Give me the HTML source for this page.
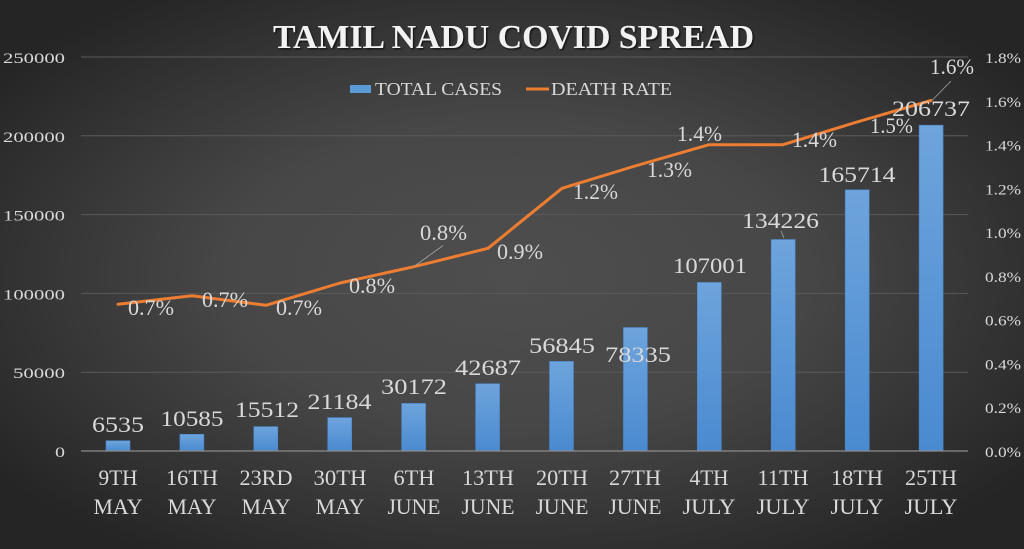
<!DOCTYPE html>
<html><head><meta charset="utf-8">
<style>
html,body{margin:0;padding:0;}
body{width:1024px;height:549px;overflow:hidden;background:#3a3a3a;}
svg{display:block;}
text{font-family:"Liberation Serif",serif;}
</style></head>
<body>
<svg width="1024" height="549" viewBox="0 0 1024 549" xmlns="http://www.w3.org/2000/svg">
<defs>
<radialGradient id="bg" cx="50%" cy="50%" r="62%">
<stop offset="0" stop-color="#4e4e4e"/>
<stop offset="0.45" stop-color="#474747"/>
<stop offset="1" stop-color="#252525"/>
</radialGradient>
<linearGradient id="bar" x1="0" y1="0" x2="0" y2="1">
<stop offset="0" stop-color="#6ea4dc"/>
<stop offset="1" stop-color="#4a8ad0"/>
</linearGradient>
<filter id="sh" x="-5%" y="-20%" width="110%" height="140%">
<feDropShadow dx="1.5" dy="1.5" stdDeviation="0.8" flood-color="#000" flood-opacity="0.6"/>
</filter>
</defs>
<rect width="1024" height="549" fill="url(#bg)"/>

<!-- gridlines -->
<g stroke="#5a5a5a" stroke-width="1">
<line x1="81" x2="968" y1="57" y2="57"/>
<line x1="81" x2="968" y1="135.8" y2="135.8"/>
<line x1="81" x2="968" y1="214.6" y2="214.6"/>
<line x1="81" x2="968" y1="293.4" y2="293.4"/>
<line x1="81" x2="968" y1="372.2" y2="372.2"/>
</g>

<!-- bars -->
<g fill="url(#bar)" stroke="#4a86c6" stroke-width="0.6">
<rect x="106" y="440.7" width="24" height="10.3"/>
<rect x="179.9" y="434.3" width="24" height="16.7"/>
<rect x="253.8" y="426.6" width="24" height="24.4"/>
<rect x="327.7" y="417.6" width="24" height="33.4"/>
<rect x="401.6" y="403.4" width="24" height="47.6"/>
<rect x="475.6" y="383.7" width="24" height="67.3"/>
<rect x="549.5" y="361.4" width="24" height="89.6"/>
<rect x="623.4" y="327.5" width="24" height="123.5"/>
<rect x="697.3" y="282.4" width="24" height="168.6"/>
<rect x="771.2" y="239.5" width="24" height="211.5"/>
<rect x="845.2" y="189.8" width="24" height="261.2"/>
<rect x="919.1" y="125.2" width="24" height="325.8"/>
</g>

<!-- zero axis -->
<line x1="81" x2="968" y1="451" y2="451" stroke="#8c8c8c" stroke-width="1.3"/>

<!-- death rate line -->
<polyline fill="none" stroke="#ed7d31" stroke-width="3" stroke-linejoin="round" stroke-linecap="round"
points="118,304.3 192,295.7 266,305.3 340,283 414,266.7 488,248.3 562,188.3 635,166 709,144.7 783,144.7 857,122 931,100.5"/>

<!-- leader lines -->
<g stroke="#a6a6a6" stroke-width="0.8">
<line x1="414" y1="266.5" x2="443" y2="245.5"/>
<line x1="932.5" y1="100" x2="951" y2="81"/>
<line x1="781" y1="231" x2="784" y2="238"/>
</g>

<!-- title -->
<text x="273" y="48" font-size="34" font-weight="bold" fill="#f2f2f2" textLength="481" lengthAdjust="spacingAndGlyphs" filter="url(#sh)">TAMIL NADU COVID SPREAD</text>

<!-- legend -->
<rect x="350" y="85" width="21" height="8" fill="#5b9bd5"/>
<text x="375" y="95" font-size="18" fill="#d9d9d9" textLength="127" lengthAdjust="spacingAndGlyphs">TOTAL CASES</text>
<line x1="526" x2="549" y1="89" y2="89" stroke="#ed7d31" stroke-width="3"/>
<text x="551" y="95" font-size="18" fill="#d9d9d9" textLength="121" lengthAdjust="spacingAndGlyphs">DEATH RATE</text>

<!-- left axis labels -->
<g font-size="15" fill="#d9d9d9" text-anchor="end">
<text x="65" y="63" textLength="62" lengthAdjust="spacingAndGlyphs">250000</text>
<text x="65" y="141.8" textLength="62" lengthAdjust="spacingAndGlyphs">200000</text>
<text x="65" y="220.6" textLength="62" lengthAdjust="spacingAndGlyphs">150000</text>
<text x="65" y="299.4" textLength="62" lengthAdjust="spacingAndGlyphs">100000</text>
<text x="65" y="378.2" textLength="52" lengthAdjust="spacingAndGlyphs">50000</text>
<text x="65" y="457" textLength="10" lengthAdjust="spacingAndGlyphs">0</text>
</g>

<!-- right axis labels -->
<g font-size="15" fill="#d9d9d9">
<text x="985" y="63" textLength="36" lengthAdjust="spacingAndGlyphs">1.8%</text>
<text x="985" y="106.8" textLength="36" lengthAdjust="spacingAndGlyphs">1.6%</text>
<text x="985" y="150.5" textLength="36" lengthAdjust="spacingAndGlyphs">1.4%</text>
<text x="985" y="194.3" textLength="36" lengthAdjust="spacingAndGlyphs">1.2%</text>
<text x="985" y="238.1" textLength="36" lengthAdjust="spacingAndGlyphs">1.0%</text>
<text x="985" y="281.9" textLength="36" lengthAdjust="spacingAndGlyphs">0.8%</text>
<text x="985" y="325.7" textLength="36" lengthAdjust="spacingAndGlyphs">0.6%</text>
<text x="985" y="369.4" textLength="36" lengthAdjust="spacingAndGlyphs">0.4%</text>
<text x="985" y="413.2" textLength="36" lengthAdjust="spacingAndGlyphs">0.2%</text>
<text x="985" y="457" textLength="36" lengthAdjust="spacingAndGlyphs">0.0%</text>
</g>

<!-- bar data labels -->
<g font-size="22" fill="#d9d9d9" text-anchor="middle">
<text x="118" y="432" textLength="52" lengthAdjust="spacingAndGlyphs">6535</text>
<text x="192" y="426" textLength="63" lengthAdjust="spacingAndGlyphs">10585</text>
<text x="267" y="417" textLength="64" lengthAdjust="spacingAndGlyphs">15512</text>
<text x="339.5" y="409" textLength="64" lengthAdjust="spacingAndGlyphs">21184</text>
<text x="414" y="394" textLength="66" lengthAdjust="spacingAndGlyphs">30172</text>
<text x="488" y="375" textLength="66" lengthAdjust="spacingAndGlyphs">42687</text>
<text x="562" y="353" textLength="66" lengthAdjust="spacingAndGlyphs">56845</text>
<text x="638" y="362" textLength="66" lengthAdjust="spacingAndGlyphs">78335</text>
<text x="710" y="273" textLength="74" lengthAdjust="spacingAndGlyphs">107001</text>
<text x="780.5" y="228" textLength="77" lengthAdjust="spacingAndGlyphs">134226</text>
<text x="857" y="182" textLength="77" lengthAdjust="spacingAndGlyphs">165714</text>
<text x="931" y="116" textLength="78" lengthAdjust="spacingAndGlyphs">206737</text>
</g>

<!-- percent labels -->
<g font-size="22" fill="#d9d9d9">
<text x="128" y="315" textLength="46" lengthAdjust="spacingAndGlyphs">0.7%</text>
<text x="202" y="307" textLength="46" lengthAdjust="spacingAndGlyphs">0.7%</text>
<text x="276" y="315" textLength="46" lengthAdjust="spacingAndGlyphs">0.7%</text>
<text x="349" y="293" textLength="46" lengthAdjust="spacingAndGlyphs">0.8%</text>
<text x="420" y="240" textLength="47" lengthAdjust="spacingAndGlyphs">0.8%</text>
<text x="497" y="259" textLength="46" lengthAdjust="spacingAndGlyphs">0.9%</text>
<text x="573" y="199" textLength="45" lengthAdjust="spacingAndGlyphs">1.2%</text>
<text x="647" y="177" textLength="45" lengthAdjust="spacingAndGlyphs">1.3%</text>
<text x="677" y="141" textLength="45" lengthAdjust="spacingAndGlyphs">1.4%</text>
<text x="792" y="147" textLength="45" lengthAdjust="spacingAndGlyphs">1.4%</text>
<text x="870" y="133" textLength="43" lengthAdjust="spacingAndGlyphs">1.5%</text>
<text x="930" y="74" textLength="44" lengthAdjust="spacingAndGlyphs">1.6%</text>
</g>

<!-- category labels -->
<g font-size="22" fill="#d9d9d9" text-anchor="middle">
<text x="118" y="485" textLength="39" lengthAdjust="spacingAndGlyphs">9TH</text>
<text x="118" y="514" textLength="49" lengthAdjust="spacingAndGlyphs">MAY</text>
<text x="192" y="485" textLength="52" lengthAdjust="spacingAndGlyphs">16TH</text>
<text x="192" y="514" textLength="49" lengthAdjust="spacingAndGlyphs">MAY</text>
<text x="266" y="485" textLength="53" lengthAdjust="spacingAndGlyphs">23RD</text>
<text x="266" y="514" textLength="49" lengthAdjust="spacingAndGlyphs">MAY</text>
<text x="340" y="485" textLength="53" lengthAdjust="spacingAndGlyphs">30TH</text>
<text x="340" y="514" textLength="49" lengthAdjust="spacingAndGlyphs">MAY</text>
<text x="414" y="485" textLength="41" lengthAdjust="spacingAndGlyphs">6TH</text>
<text x="414" y="514" textLength="53" lengthAdjust="spacingAndGlyphs">JUNE</text>
<text x="488" y="485" textLength="52" lengthAdjust="spacingAndGlyphs">13TH</text>
<text x="488" y="514" textLength="53" lengthAdjust="spacingAndGlyphs">JUNE</text>
<text x="562" y="485" textLength="52" lengthAdjust="spacingAndGlyphs">20TH</text>
<text x="562" y="514" textLength="53" lengthAdjust="spacingAndGlyphs">JUNE</text>
<text x="635" y="485" textLength="52" lengthAdjust="spacingAndGlyphs">27TH</text>
<text x="635" y="514" textLength="53" lengthAdjust="spacingAndGlyphs">JUNE</text>
<text x="709" y="485" textLength="39" lengthAdjust="spacingAndGlyphs">4TH</text>
<text x="709" y="514" textLength="53" lengthAdjust="spacingAndGlyphs">JULY</text>
<text x="783" y="485" textLength="51" lengthAdjust="spacingAndGlyphs">11TH</text>
<text x="783" y="514" textLength="53" lengthAdjust="spacingAndGlyphs">JULY</text>
<text x="857" y="485" textLength="52" lengthAdjust="spacingAndGlyphs">18TH</text>
<text x="857" y="514" textLength="53" lengthAdjust="spacingAndGlyphs">JULY</text>
<text x="931" y="485" textLength="52" lengthAdjust="spacingAndGlyphs">25TH</text>
<text x="931" y="514" textLength="53" lengthAdjust="spacingAndGlyphs">JULY</text>
</g>
</svg>
</body></html>
